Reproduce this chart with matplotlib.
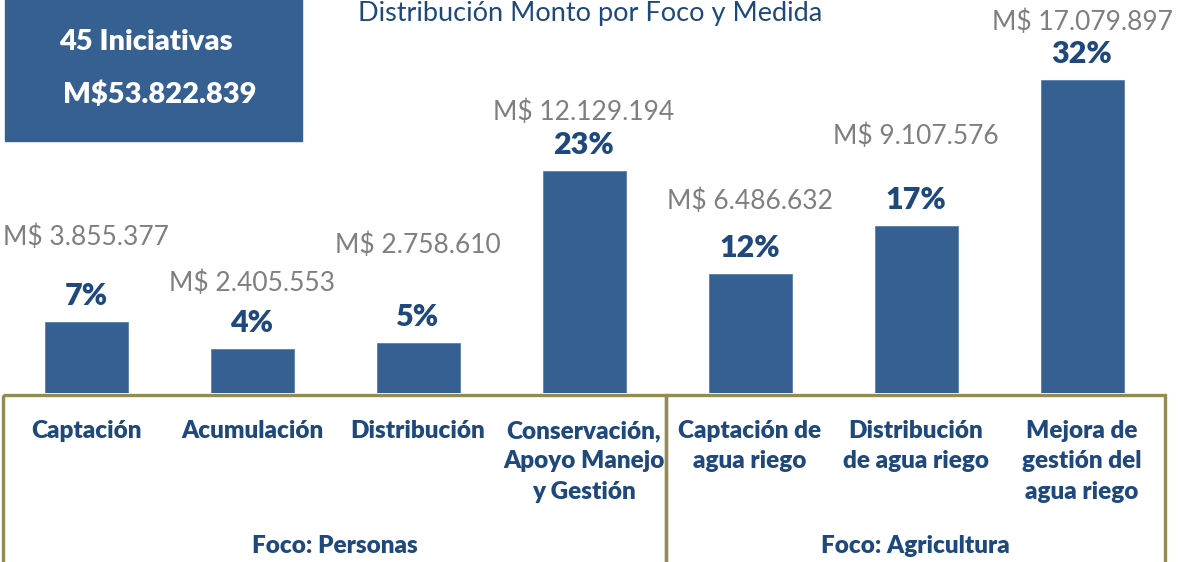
import matplotlib.pyplot as plt
from matplotlib.patches import Rectangle

medidas = [
    "Captación",
    "Acumulación",
    "Distribución",
    "Conservación,\nApoyo Manejo\ny Gestión",
    "Captación de\nagua riego",
    "Distribución\nde agua riego",
    "Mejora de\ngestión del\nagua riego",
]
montos = [3855377, 2405553, 2758610, 12129194, 6486632, 9107576, 17079897]
porcentajes = ["7%", "4%", "5%", "23%", "12%", "17%", "32%"]
focos = ["Foco: Personas", "Foco: Agricultura"]
total_iniciativas = 45
total_monto = "M$53.822.839"
titulo = "Distribución Monto por Foco y Medida"

# layout only: how far (px) above the bar top each gray amount label sits
rise_monto = [85, 66, 97, 59, 73, 90, 58]

BAR = "#376092"
DARK = "#1F497D"
GRAY = "#7F7F7F"
OLIVE = "#948A54"
BOLD = "heavy"

plt.rcParams["font.family"] = ["Lato", "DejaVu Sans"]

W, H = 1190, 562
fig = plt.figure(figsize=(W / 100, H / 100), dpi=100)
base_px = 393
ax = fig.add_axes([0, (H - base_px) / H, 1, base_px / H])

vals = [m / 1e6 for m in montos]
xs = list(range(len(vals)))
ax.bar(xs, vals, width=0.5, color=BAR, edgecolor="#5a7fb0", linewidth=0.6)
ax.set_xlim(-86 / 166, (W - 86) / 166)
ax.set_ylim(0, base_px / 18.3)
ax.axis("off")


def fmt(m):
    return "M$ " + f"{m:,}".replace(",", ".")


for x, v, m, p, r in zip(xs, vals, montos, porcentajes, rise_monto):
    ax.annotate(p, (x, v), xytext=(0, 26 * 0.72), textcoords="offset points",
                ha="center", va="center", fontsize=22, fontweight=BOLD, color=DARK)
    ax.annotate(fmt(m), (x, v), xytext=(0, r * 0.72), textcoords="offset points",
                ha="center", va="center", fontsize=19, color=GRAY)

# overlay axes in pixel coordinates for boxes and texts below the bars
ov = fig.add_axes([0, 0, 1, 1], zorder=-1)
ov.set_xlim(0, W)
ov.set_ylim(H, 0)
ov.axis("off")

ov.add_patch(Rectangle((5, -5), 297, 146, color=BAR))
ov.text(59, 42, f"{total_iniciativas} Iniciativas", ha="left", va="center",
        fontsize=21, fontweight=BOLD, color="white")
ov.text(63, 95, total_monto, ha="left", va="center",
        fontsize=21, fontweight=BOLD, color="white")

ov.text(590, 21, titulo, ha="center", va="baseline", fontsize=19.5, color=DARK)

edges = [3, 666, 1165]
for i in range(len(focos)):
    ov.add_patch(Rectangle((edges[i], 395), edges[i + 1] - edges[i], 200,
                           fill=False, edgecolor=OLIVE, linewidth=2.4))
    ov.text((edges[i] + edges[i + 1]) / 2, 546, focos[i], ha="center", va="center",
            fontsize=17.5, fontweight=BOLD, color=DARK)

for x, lab in zip(xs, medidas):
    px = 86 + 166 * x
    ov.text(px, 420, lab, ha="center", va="top", fontsize=17.5, fontweight=BOLD,
            color=DARK, linespacing=1.47)

fig.savefig("out.png", dpi=100)
